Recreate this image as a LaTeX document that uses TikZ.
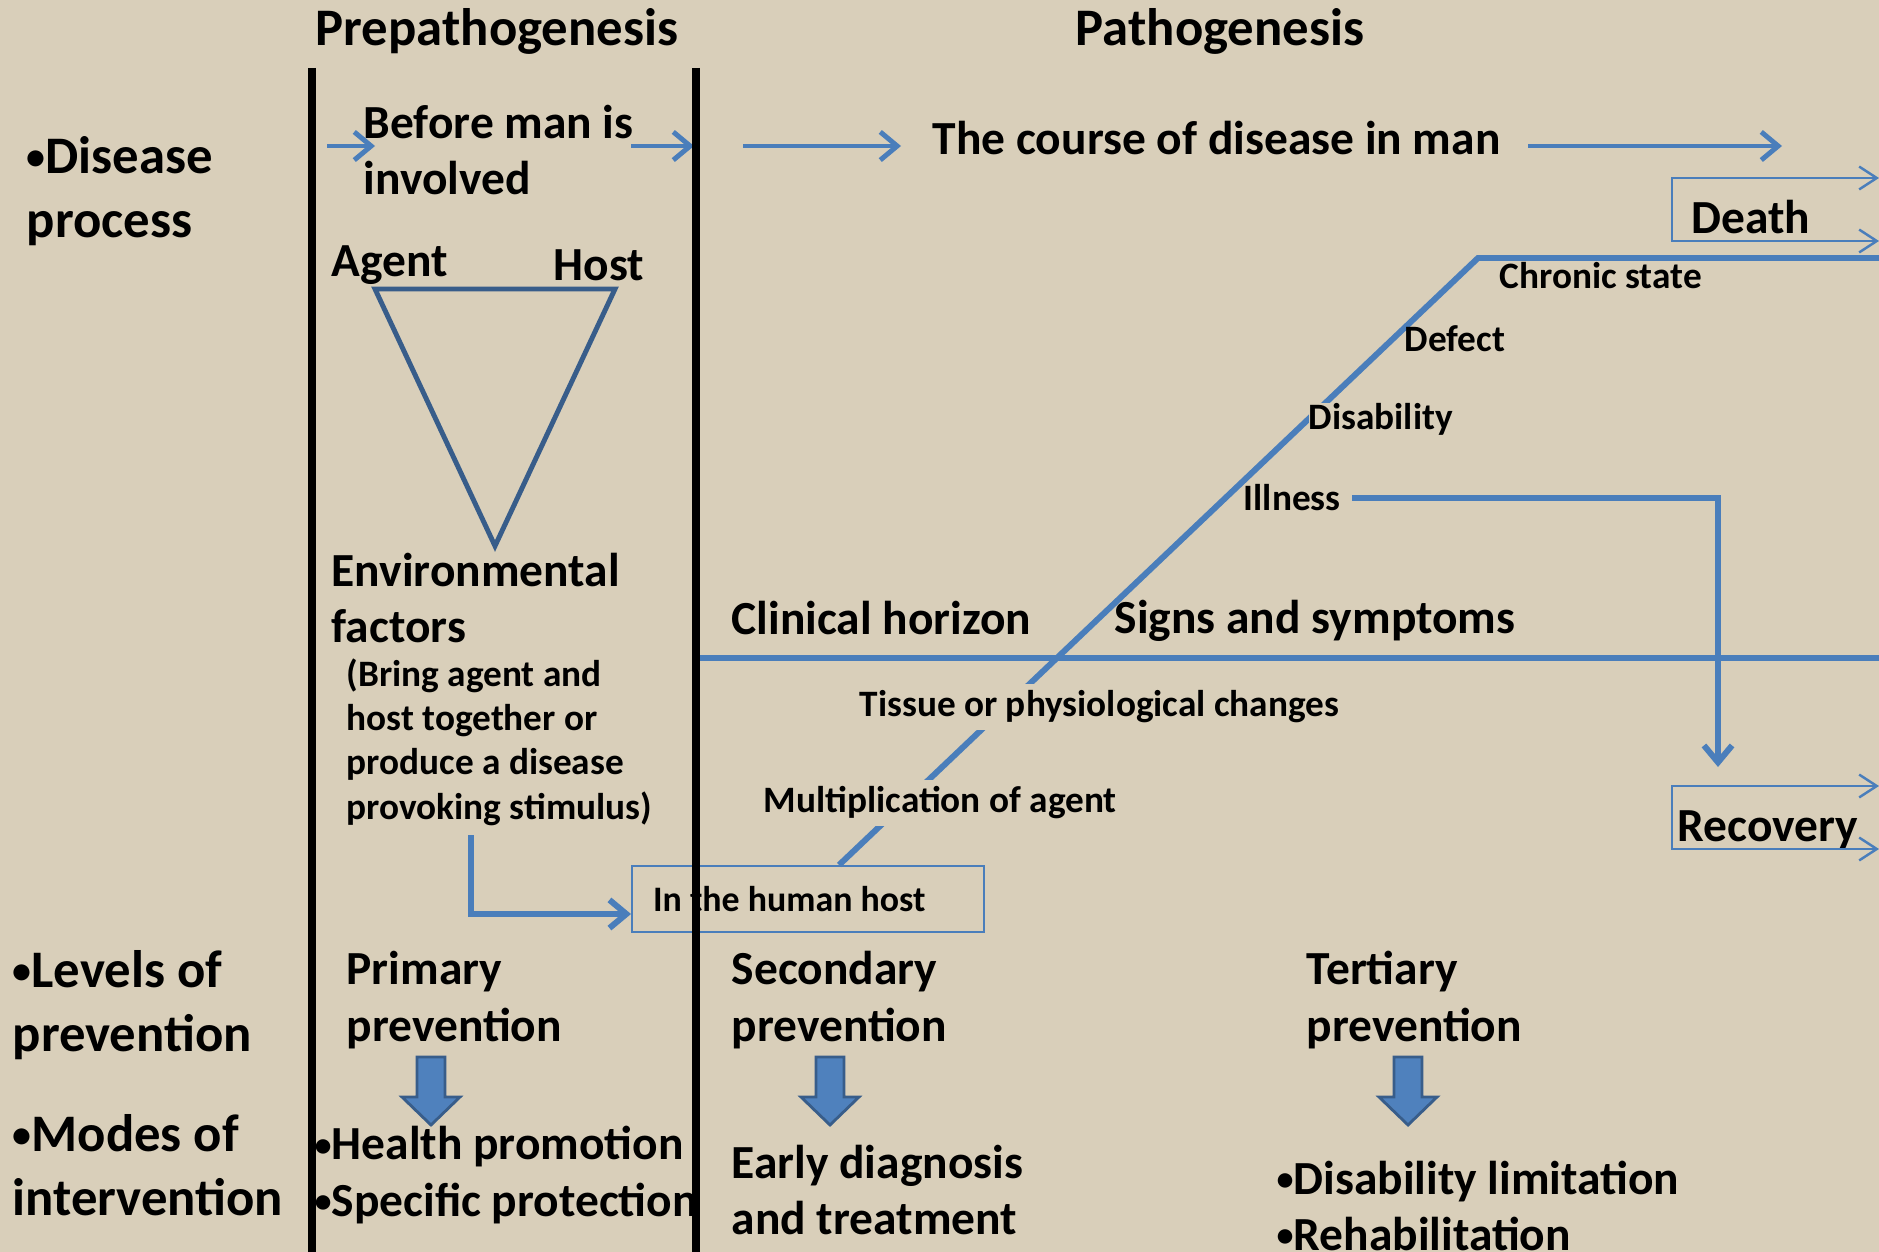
\documentclass[tikz,border=0pt]{standalone}
\usepackage{fontspec}
\setmainfont{Carlito}
\usetikzlibrary{arrows.meta}

\definecolor{canvas}{RGB}{217,207,186}
\definecolor{lineblue}{RGB}{74,126,187}
\definecolor{triblue}{RGB}{56,93,138}
\definecolor{fillblue}{RGB}{79,129,189}
\newcommand{\itemdot}{\raisebox{0.08em}{\scalebox{0.72}{•}}}

\begin{document}
\begin{tikzpicture}[x=0.01cm, y=-0.01cm, >={Straight Barb[length=4.8pt,width=8pt]},
                    big/.style={inner sep=0pt, anchor=west, align=left, font=\bfseries\fontsize{13.5}{16}\selectfont},
                    side/.style={big, font=\bfseries\fontsize{15}{18.2}\selectfont},
                    small/.style={inner sep=0pt, anchor=west, align=left, font=\bfseries\fontsize{10.6}{12.6}\selectfont},
                    title/.style={inner sep=0pt, font=\bfseries\fontsize{15}{17}\selectfont},
                    flow/.style={draw=lineblue, line width=1.4pt},
                    stage/.style={draw=lineblue, line width=1.7pt},
                    divider/.style={line width=2pt},
                    outcome/.style={draw=lineblue, line width=0.7pt, {Straight Barb[length=5pt,width=6.5pt]}-{Straight Barb[length=5pt,width=6.5pt]}},
                    blockarrow/.style={draw=triblue, fill=fillblue, line width=0.8pt}]

  \fill[canvas] (0,0) rectangle (1879,1252);
  \useasboundingbox (0,0) rectangle (1879,1252);

  % column heads and row heads
  \node[title] (prepath) at (497,31) {Prepathogenesis};
  \node[title] (path) at (1220,31) {Pathogenesis};
  \node[side] (disease) at (26,191) {\itemdot Disease\\process};
  \node[side] (levels) at (12,1005) {\itemdot Levels of\\prevention};
  \node[side] (modes) at (12,1165) {\itemdot Modes of\\intervention};

  % prepathogenesis
  \node[big] (before) at (363,150) {Before man is\\involved};
  \node[big] (agent) at (331,265) {Agent};
  \node[big, anchor=east] (host) at (645,265) {Host};
  \draw[triblue, line width=1.4pt] (375,289) -- (615,289) -- (495,546) -- cycle;
  \node[big] (env) at (331,598) {Environmental\\factors};
  \node[small] (bring) at (346,742)
    {(Bring agent and\\host together or\\produce a disease\\provoking stimulus)};

  % pathogenesis
  \node[big] (course) at (932,138) {The course of disease in man};
  \node[big] (horizon) at (731,618) {Clinical horizon};
  \node[big] (signs) at (1114,621) {Signs and symptoms};

  \coordinate (onset) at (839,865);
  \coordinate (chronic) at (1478,258);
  \draw[stage] (onset) -- (chronic) -- (1879,258);
  \draw[stage] (696,658) -- (1879,658);

  \node[small] (chronicl) at (1499,276) {Chronic state};
  \node[small] (defect) at (1404,339) {Defect};
  \node[small, fill=canvas] (disab) at (1308,419) {Disability};
  \node[small] (illness) at (1243,498) {Illness};
  \node[small, fill=canvas, inner ysep=2pt] (tissue) at (859,707) {Tissue or physiological changes};
  \node[small, fill=canvas, inner ysep=2pt] (multi) at (763,803) {Multiplication of agent};

  \node[small, font=\bfseries\fontsize{10.2}{12}\selectfont, anchor=north west, draw=lineblue, line width=0.6pt,
        inner xsep=0.21cm, minimum height=0.66cm] (humanhost) at (631,865) {\makebox[3.1cm][l]{In the human host}};

  \node[big, anchor=center] (death) at (1751,217) {Death};
  \node[big, anchor=center] (recovery) at (1768,830) {Recovery};
  \draw[outcome] (1879,178) -- (1672,178) -- (1672,241) -- (1879,241);
  \draw[outcome] (1879,786) -- (1672,786) -- (1672,849) -- (1879,849);

  % flow arrows
  \draw[flow,->] (327,146) -- (375,146);
  \draw[flow,->] (631,146) -- (694,146);
  \draw[flow,->] (743,146) -- (901,146);
  \draw[flow,->] (1528,146) -- (1782,146);
  \draw[stage,->] (1352,498) -- (1718,498) -- (1718,767);
  \draw[stage,->] (471,835) -- (471,914) -- (humanhost.west |- 0,914);

  % prevention
  \node[big] (primary) at (346,1000) {Primary\\prevention};
  \node[big] (secondary) at (731,1000) {Secondary\\prevention};
  \node[big] (tertiary) at (1306,1000) {Tertiary\\prevention};
  \foreach \ax in {431,830,1408}
    \draw[blockarrow] (\ax-14,1057) -- (\ax+14,1057) -- (\ax+14,1097) -- (\ax+29,1097)
      -- (\ax,1125) -- (\ax-29,1097) -- (\ax-14,1097) -- cycle;
  \node[big] (hp) at (314,1175) {\itemdot Health promotion\\\itemdot Specific protection};
  \node[big] (early) at (731,1190) {Early diagnosis\\and treatment};
  \node[big] (tert) at (1276,1206) {\itemdot Disability limitation\\\itemdot Rehabilitation};

  % phase dividers
  \draw[divider] (312,68) -- (312,1252);
  \draw[divider] (696,68) -- (696,1252);
\end{tikzpicture}
\end{document}
